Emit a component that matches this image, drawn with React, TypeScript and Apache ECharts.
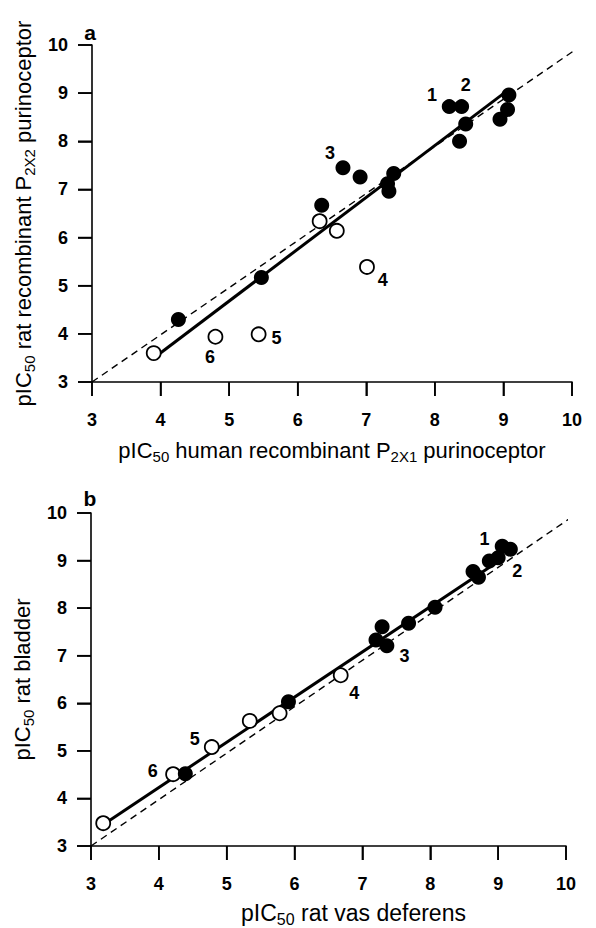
import React, { useEffect, useRef } from "react";
import * as echarts from "echarts";

const FONT = "'Liberation Sans', Arial, Helvetica, sans-serif";

// Axis ticks
const AXIS_MIN = 3;
const AXIS_MAX = 10;
const AXIS_STEP = 1;
const TICKS: number[] = [3, 4, 5, 6, 7, 8, 9, 10];

// Panel a: human P2X1 (x) vs rat P2X2 (y)
const topFilled: number[][] = [
  [8.21, 8.72], [8.39, 8.72], [8.45, 8.36], [8.36, 8.0], [9.08, 8.96],
  [9.06, 8.66], [8.95, 8.46], [6.66, 7.45], [6.91, 7.26], [7.40, 7.33],
  [7.31, 7.12], [7.33, 6.96], [6.35, 6.67], [5.47, 5.17], [4.26, 4.30],
];
const topOpen: number[][] = [
  [6.32, 6.34], [6.57, 6.14], [7.01, 5.39], [3.90, 3.60], [4.80, 3.94], [5.43, 3.99],
];
const topRegression: number[][] = [[3.95, 3.55], [9.0, 8.99]];
const topIdentity: number[][] = [[3, 3], [10.18, 10.03]];
const topLabels: (number | string)[][] = [
  [7.96, 8.96, "1"], [8.45, 9.17, "2"], [6.47, 7.76, "3"],
  [7.24, 5.11, "4"], [5.69, 3.92, "5"], [4.72, 3.51, "6"],
];

// Panel b: rat vas deferens (x) vs rat bladder (y)
const botFilled: number[][] = [
  [9.06, 9.30], [9.18, 9.24], [8.87, 8.99], [9.0, 9.06], [8.63, 8.77],
  [8.71, 8.65], [8.07, 8.02], [7.68, 7.68], [7.29, 7.61], [7.20, 7.33],
  [7.36, 7.21], [5.91, 6.03], [4.39, 4.52],
];
const botOpen: number[][] = [
  [6.68, 6.59], [5.78, 5.79], [5.34, 5.63], [4.78, 5.08], [4.21, 4.51], [3.18, 3.48],
];
const botRegression: number[][] = [[3.2, 3.47], [9.0, 8.98]];
const botIdentity: number[][] = [[3, 3], [10.09, 9.92]];
const botLabels: (number | string)[][] = [
  [8.80, 9.46, "1"], [9.28, 8.79, "2"], [7.62, 6.99, "3"],
  [6.88, 6.22, "4"], [4.53, 5.25, "5"], [3.91, 4.57, "6"],
];

const topXName = "{n|pIC}{s|50}{n| human recombinant P}{s|2X1}{n| purinoceptor}";
const topYName = "{n|pIC}{s|50}{n| rat recombinant P}{s|2X2}{n| purinoceptor}";
const botXName = "{b|pIC}{t|50}{b| rat vas deferens}";
const botYName = "{n|pIC}{s|50}{n| rat bladder}";

const nameRich = {
  n: { fontSize: 22, fontFamily: FONT, color: "#000" },
  s: { fontSize: 15, fontFamily: FONT, color: "#000", padding: [12, 0, 0, 0] },
  b: { fontSize: 23, fontFamily: FONT, color: "#000" },
  t: { fontSize: 16, fontFamily: FONT, color: "#000", padding: [12, 0, 0, 0] },
};

const TICK_LEN = 14;
const TICK_W = 1.6;

function axisCommon(gridIndex: number) {
  return {
    gridIndex,
    type: "value" as const,
    min: AXIS_MIN,
    max: AXIS_MAX,
    interval: AXIS_STEP,
    splitLine: { show: false },
    axisLine: { show: true, onZero: false, lineStyle: { color: "#000", width: 1.6 } },
    axisTick: { show: true, length: TICK_LEN, lineStyle: { color: "#000", width: TICK_W } },
    nameLocation: "middle" as const,
  };
}

const tickLabel = (margin: number) => ({
  margin,
  fontFamily: FONT,
  fontSize: 18,
  fontWeight: "bold" as const,
  color: "#000",
});

const panelLetters = [
  {
    type: "text",
    x: 90,
    y: 32,
    z: 10,
    style: { text: "a", fontFamily: FONT, fontSize: 21, fontWeight: "bold", fill: "#000", align: "center", verticalAlign: "middle" },
  },
  {
    type: "text",
    x: 90,
    y: 498,
    z: 10,
    style: { text: "b", fontFamily: FONT, fontSize: 21, fontWeight: "bold", fill: "#000", align: "center", verticalAlign: "middle" },
  },
];

export default function App() {
  const ref = useRef<HTMLDivElement>(null);
  useEffect(() => {
    if (!ref.current) return;
    const chart = echarts.init(ref.current, undefined, { renderer: "svg" });
    const labelSeries = (data: (number | string)[][], idx: number) => ({
      type: "scatter",
      xAxisIndex: idx,
      yAxisIndex: idx,
      data,
      symbolSize: 1,
      itemStyle: { color: "rgba(255,255,255,0)", opacity: 1 },
      silent: true,
      z: 5,
      label: {
        show: true,
        position: "inside",
        formatter: (p: any) => p.value[2],
        fontFamily: FONT,
        fontSize: 18,
        fontWeight: "bold",
        color: "#000",
      },
    });
    const filled = (data: number[][], idx: number) => ({
      type: "scatter",
      xAxisIndex: idx,
      yAxisIndex: idx,
      data,
      symbol: "circle",
      symbolSize: 15,
      itemStyle: { color: "#000", opacity: 1 },
      z: 4,
    });
    const open = (data: number[][], idx: number) => ({
      type: "scatter",
      xAxisIndex: idx,
      yAxisIndex: idx,
      data,
      symbol: "circle",
      symbolSize: 14,
      itemStyle: { color: "#fff", borderColor: "#000", borderWidth: 1.8, opacity: 1 },
      z: 4,
    });
    const solid = (data: number[][], idx: number) => ({
      type: "line",
      xAxisIndex: idx,
      yAxisIndex: idx,
      data,
      symbol: "none",
      clip: false,
      lineStyle: { color: "#000", width: 3 },
      z: 3,
    });
    const dashed = (data: number[][], idx: number) => ({
      type: "line",
      xAxisIndex: idx,
      yAxisIndex: idx,
      data,
      symbol: "none",
      clip: false,
      lineStyle: { color: "#000", width: 1.4, type: [7, 5] },
      z: 2,
    });

    chart.setOption({
      animation: false,
      backgroundColor: "#fff",
      grid: [
        { left: 92, top: 45, width: 480, height: 337 },
        { left: 91, top: 513, width: 475, height: 337 },
      ],
      xAxis: [
        {
          ...axisCommon(0),
          axisLabel: tickLabel(29),
          name: topXName,
          nameGap: 55,
          nameTextStyle: { rich: nameRich },
        },
        {
          ...axisCommon(1),
          axisLabel: tickLabel(29),
          name: botXName,
          nameGap: 53,
          nameTextStyle: { rich: nameRich, padding: [0, 0, 0, 50] },
        },
      ],
      yAxis: [
        {
          ...axisCommon(0),
          axisLabel: tickLabel(24),
          name: topYName,
          nameGap: 54,
          nameRotate: 90,
          nameTextStyle: { rich: nameRich },
        },
        {
          ...axisCommon(1),
          axisLabel: tickLabel(24),
          name: botYName,
          nameGap: 54,
          nameRotate: 90,
          nameTextStyle: { rich: nameRich },
        },
      ],
      graphic: panelLetters,
      series: [
        dashed(topIdentity, 0),
        solid(topRegression, 0),
        open(topOpen, 0),
        filled(topFilled, 0),
        labelSeries(topLabels, 0),
        dashed(botIdentity, 1),
        solid(botRegression, 1),
        open(botOpen, 1),
        filled(botFilled, 1),
        labelSeries(botLabels, 1),
      ],
    });

    // Tick marks placed through the grids' own scales (convertToPixel)
    const tickEls: any[] = [];
    [0, 1].forEach((gi) => {
      TICKS.forEach((v) => {
        const p = chart.convertToPixel({ gridIndex: gi }, [v, AXIS_MIN]) as number[];
        const q = chart.convertToPixel({ gridIndex: gi }, [AXIS_MIN, v]) as number[];
        if (p && q) {
          tickEls.push({
            type: "rect",
            silent: true,
            z: 10,
            shape: { x: p[0] - TICK_W / 2, y: p[1], width: TICK_W, height: TICK_LEN },
            style: { fill: "#000" },
          });
          tickEls.push({
            type: "rect",
            silent: true,
            z: 10,
            shape: { x: q[0] - TICK_LEN, y: q[1] - TICK_W / 2, width: TICK_LEN, height: TICK_W },
            style: { fill: "#000" },
          });
        }
      });
    });
    chart.setOption({ graphic: [...panelLetters, ...tickEls] });

    return () => chart.dispose();
  }, []);
  return (
    <div
      ref={ref}
      style={{ position: "absolute", left: 0, top: 0, width: 596, height: 928, background: "#fff" }}
    />
  );
}
